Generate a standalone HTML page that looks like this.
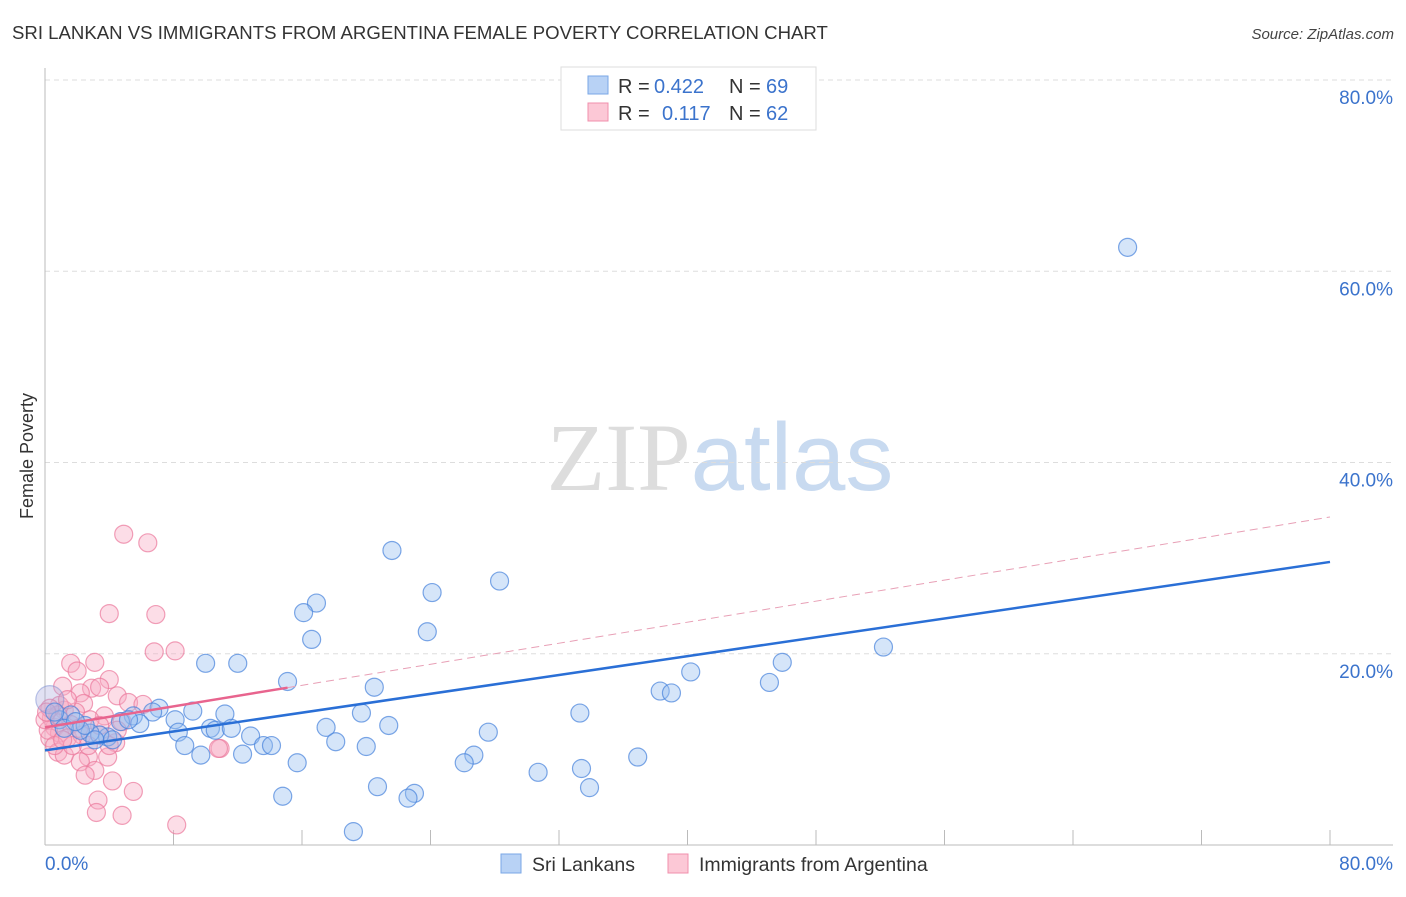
<!DOCTYPE html>
<html><head><meta charset="utf-8"><style>
body{margin:0;background:#fff;font-family:"Liberation Sans",sans-serif;}
svg text{font-family:"Liberation Sans",sans-serif;}
</style></head><body>
<svg id="chart" width="1406" height="892" xmlns="http://www.w3.org/2000/svg">
<text x="12" y="39" font-size="18.6" fill="#333">SRI LANKAN VS IMMIGRANTS FROM ARGENTINA FEMALE POVERTY CORRELATION CHART</text>
<text x="1394" y="39" font-size="15" fill="#444" text-anchor="end" font-style="italic">Source: ZipAtlas.com</text>
<text transform="translate(33,456) rotate(-90)" font-size="18" fill="#333" text-anchor="middle">Female Poverty</text>
<text x="720" y="490" font-size="96" text-anchor="middle"><tspan fill="#ddd" font-family="Liberation Serif">ZIP</tspan><tspan fill="#c8daf0">atlas</tspan></text>
<g id="grid"></g><g id="marks"></g><g id="lines"></g>
<g>
<rect x="561" y="67" width="255" height="63" fill="#fff" stroke="#ddd"/>
<rect x="588" y="76" width="20" height="18" fill="#b8d2f5" stroke="#7aa7e6"/>
<rect x="588" y="103" width="20" height="18" fill="#fcc8d6" stroke="#f08fac"/>
<text x="618" y="93" font-size="20" fill="#333">R =</text>
<text x="654" y="93" font-size="20" fill="#3b73cc">0.422</text>
<text x="729" y="93" font-size="20" fill="#333">N =</text>
<text x="766" y="93" font-size="20" fill="#3b73cc">69</text>
<text x="618" y="120" font-size="20" fill="#333">R =</text>
<text x="662" y="120" font-size="20" fill="#3b73cc">0.117</text>
<text x="729" y="120" font-size="20" fill="#333">N =</text>
<text x="766" y="120" font-size="20" fill="#3b73cc">62</text>
</g>
<g>
<rect x="501" y="854" width="20" height="19" fill="#b8d2f5" stroke="#7aa7e6"/>
<text x="532" y="871" font-size="19.5" fill="#333">Sri Lankans</text>
<rect x="668" y="854" width="20" height="19" fill="#fcc8d6" stroke="#f08fac"/>
<text x="699" y="871" font-size="19.5" fill="#333">Immigrants from Argentina</text>
</g>
</svg>
<script>
const yTicks=[20,40,60,80];
const yTickLabels=["20.0%","40.0%","60.0%","80.0%"];
const blueX=[67.4,21.6,16.9,16.1,24.1,28.3,16.6,23.8,52.2,45.9,40.2,38.3,39.0,45.1,15.1,20.5,10.0,12.0,9.2,11.2,7.1,6.7,5.5,4.7,5.9,8.1,8.3,10.3,10.6,11.6,12.8,13.6,14.1,12.3,9.7,8.7,17.5,18.1,20.0,21.4,19.7,27.6,26.7,26.1,33.3,30.7,33.4,36.9,15.7,33.9,20.7,23.0,22.6,14.8,19.2,3.9,3.4,2.8,2.2,0.9,0.3,1.6,2.5,3.1,5.2,4.2,1.2,0.6,1.9];
const blueY=[62.5,30.8,25.3,24.3,26.4,27.6,21.5,22.3,20.7,19.1,18.1,16.1,15.9,17.0,17.1,16.5,19.0,19.0,14.0,13.7,14.3,13.9,13.5,12.9,12.7,13.1,11.8,12.2,12.0,12.2,11.4,10.4,10.4,9.5,9.4,10.4,12.3,10.8,10.3,12.5,13.8,11.8,9.4,8.6,13.8,7.6,8.0,9.2,8.6,6.0,6.1,5.4,4.9,5.1,1.4,11.3,11.5,11.7,12.0,13.1,15.2,13.6,12.5,11.0,13.1,11.0,12.2,13.9,12.9];
const pinkX=[4.9,6.4,4.0,6.9,1.6,3.1,6.8,8.1,2.0,4.0,1.1,2.9,3.4,2.2,4.5,5.2,6.1,2.4,1.2,1.9,3.7,4.8,2.8,1.6,0.6,0.9,0.3,1.4,2.3,3.4,4.4,3.9,2.7,2.2,3.1,2.5,0.8,1.2,4.2,5.5,3.3,3.2,4.8,8.2,10.9,10.8,0.9,0.4,0.2,1.7,0.6,1.1,0.0,4.0,4.5,3.4,2.7,2.1,1.4,0.8,0.3,0.1];
const pinkY=[32.5,31.6,24.2,24.1,19.0,19.1,20.2,20.3,18.2,17.3,16.6,16.4,16.5,15.9,15.6,14.9,14.7,14.8,14.1,13.9,13.5,12.9,13.1,12.6,12.3,11.7,11.2,11.2,11.5,11.5,10.7,9.2,9.2,8.7,7.8,7.3,9.7,9.4,6.7,5.6,4.7,3.4,3.1,2.1,10.1,10.1,14.6,13.3,12.0,10.4,10.4,11.0,13.1,10.4,12.0,12.5,10.4,12.2,15.2,13.6,14.3,13.9];
const blueLine=[9.9,29.6];
const pinkLine=[12.3,34.3];
const pinkSolidEnd=15.1;
const NS="http://www.w3.org/2000/svg";
const sx=v=>45+v*(1285/80);
const sy=v=>845-v*(765/80);
function mk(tag,attrs,parent){const e=document.createElementNS(NS,tag);for(const k in attrs)e.setAttribute(k,attrs[k]);parent.appendChild(e);return e;}
const grid=document.getElementById('grid');
yTicks.forEach((t,i)=>{
 const l=mk('line',{x1:45,x2:1393,y1:sy(t),y2:sy(t),stroke:'#ddd','stroke-dasharray':'5,4'},grid);
 
 
 const tx=mk('text',{x:1393,y:sy(t)+24,'font-size':19,fill:'#3b73cc','text-anchor':'end'},grid);
 tx.textContent=yTickLabels[i];
 
 
});
const ax=mk('line',{x1:45,x2:45,y1:68,y2:845,stroke:'#bbb'},grid);


const bx=mk('line',{x1:45,x2:1393,y1:845,y2:845,stroke:'#bbb'},grid);


for(let i=1;i<=10;i++){
 const t=mk('line',{x1:sx(i*8),x2:sx(i*8),y1:830,y2:845,stroke:'#bbb'},grid);
 
 
}
const x0=mk('text',{x:45,y:870,'font-size':19,fill:'#3b73cc'},grid);x0.textContent='0.0%';


const x1=mk('text',{x:1393,y:870,'font-size':19,fill:'#3b73cc','text-anchor':'end'},grid);x1.textContent='80.0%';


const marks=document.getElementById('marks');
pinkX.forEach((v,i)=>{
 const c=mk('circle',{cx:sx(v),cy:sy(pinkY[i]),r:9,fill:'rgba(248,170,195,0.4)',stroke:'rgba(235,120,155,0.7)','stroke-width':1.2},marks);
 
 
});
blueX.forEach((v,i)=>{
 const big=i===60;
 const c=mk('circle',{cx:sx(v),cy:sy(blueY[i]),r:big?14:9,fill:big?'rgba(170,170,220,0.35)':'rgba(150,190,240,0.4)',stroke:big?'rgba(120,140,210,0.5)':'rgba(70,130,220,0.7)','stroke-width':1.2},marks);
 
 
});
const lines=document.getElementById('lines');
const bl=mk('line',{x1:sx(0),y1:sy(blueLine[0]),x2:sx(80),y2:sy(blueLine[1]),stroke:'#2a6fd6','stroke-width':2.5},lines);


const pm=v=>pinkLine[0]+(pinkLine[1]-pinkLine[0])*v/80;
const pd=mk('line',{x1:sx(pinkSolidEnd),y1:sy(pm(pinkSolidEnd)),x2:sx(80),y2:sy(pinkLine[1]),stroke:'#e8a0b6','stroke-width':1,'stroke-dasharray':'8,5'},lines);


const ps=mk('line',{x1:sx(0),y1:sy(pinkLine[0]),x2:sx(pinkSolidEnd),y2:sy(pm(pinkSolidEnd)),stroke:'#e8648e','stroke-width':2.5},lines);


</script>
</body></html>
